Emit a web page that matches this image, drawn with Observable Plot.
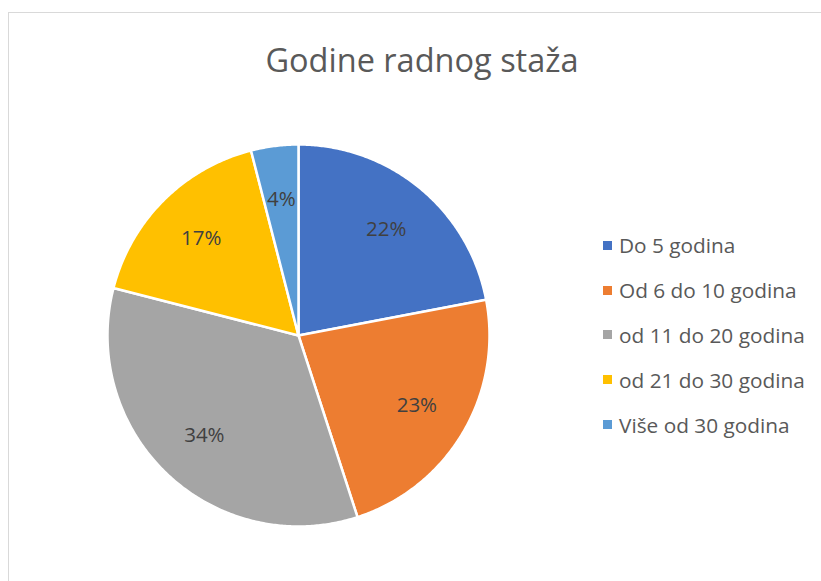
<!DOCTYPE html>
<html>
<head>
<meta charset="utf-8">
<script src="https://cdn.jsdelivr.net/npm/d3@7"></script>
<script src="https://cdn.jsdelivr.net/npm/@observablehq/plot@0.6"></script>
<style>
  body { margin: 0; background: #fff; font-family: "Open Sans", "Noto Sans", sans-serif; }
  #wrap { position: relative; width: 821px; height: 581px; overflow: hidden; }
  #frame { position: absolute; left: 8px; top: 12px; width: 900px; height: 700px;
           border-top: 1.5px solid #d9d9d9; border-left: 1.5px solid #d9d9d9; }
  #title { position: absolute; top: 36px; left: 22px; width: 800px; text-align: center;
           font-size: 32.5px; color: #595959; line-height: 48px; }
  #chart { position: absolute; top: 100px; left: 0; }
  #legend { position: absolute; left: 603px; top: 223px; }
  .item { display: flex; align-items: center; height: 44.8px; font-size: 20.8px; color: #595959; }
  .sw { width: 9px; height: 9px; margin-right: 7px; }
</style>
</head>
<body>
<div id="wrap">
  <div id="frame"></div>
  <div id="title"></div>
  <div id="chart"></div>
  <div id="legend"></div>
</div>
<script>
const title = "Godine radnog staža";
const categories = ["Do 5 godina", "Od 6 do 10 godina", "od 11 do 20 godina", "od 21 do 30 godina", "Više od 30 godina"];
const percents = [22, 23, 34, 17, 4];
const colors = ["#4472C4", "#ED7D31", "#A5A5A5", "#FFC000", "#5B9BD5"];

document.getElementById("title").textContent = title;

const slices = d3.pie().sort(null).value(d => d.value)(
  categories.map((c, i) => ({cat: c, value: percents[i]}))
);

const pts = [];
slices.forEach(s => {
  const n = Math.max(2, Math.ceil((s.endAngle - s.startAngle) / (Math.PI / 360)));
  pts.push({cat: s.data.cat, x: 0, y: 0});
  for (let k = 0; k <= n; k++) {
    const a = s.startAngle + (s.endAngle - s.startAngle) * k / n;
    pts.push({cat: s.data.cat, x: Math.sin(a), y: Math.cos(a)});
  }
  pts.push({cat: s.data.cat, x: 0, y: 0});
});

const labels = slices.map(s => {
  const a = (s.startAngle + s.endAngle) / 2;
  return {x: 0.72 * Math.sin(a), y: 0.72 * Math.cos(a), text: s.data.value + "%"};
});

const cx = 298, cy = 235, r = 191;
const chart = Plot.plot({
  width: 821,
  height: 481,
  margin: 0,
  style: {fontFamily: '"Open Sans", "Noto Sans", sans-serif', background: "transparent"},
  x: {domain: [-1, 1], range: [cx - r, cx + r], axis: null},
  y: {domain: [-1, 1], range: [cy + r, cy - r], axis: null},
  color: {domain: categories, range: colors},
  marks: [
    Plot.line(pts, {x: "x", y: "y", z: "cat", fill: "cat", stroke: "white", strokeWidth: 2.5, strokeLinejoin: "round"}),
    Plot.text(labels, {x: "x", y: "y", text: "text", fontSize: 20.5, fill: "#404040"})
  ]
});
document.getElementById("chart").appendChild(chart);

const legend = d3.select("#legend");
categories.forEach((c, i) => {
  const it = legend.append("div").attr("class", "item");
  it.append("div").attr("class", "sw").style("background", colors[i]);
  it.append("span").text(c);
});
</script>
</body>
</html>
